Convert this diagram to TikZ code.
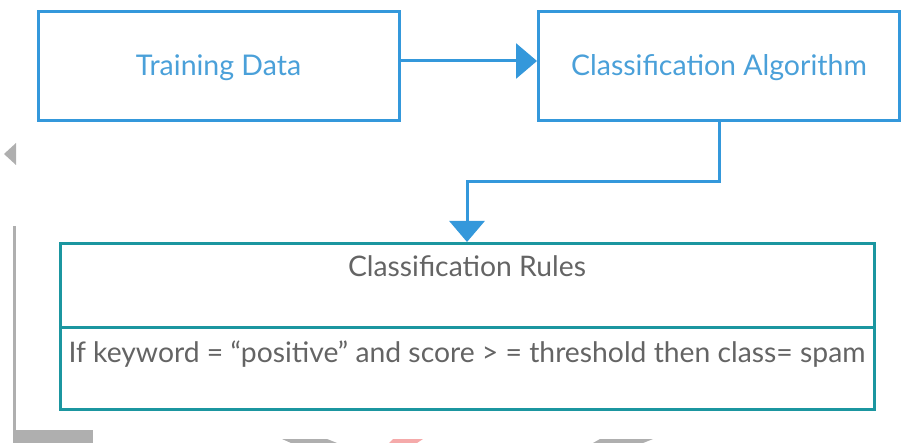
\documentclass[tikz,border=0pt]{standalone}
\usepackage{fontspec}
\setmainfont{Lato}
\usetikzlibrary{arrows.meta,positioning}

\tikzset{every picture/.style={line width=0.75pt}}
\tikzset{
  stagebox/.style={draw={rgb, 255:red, 52; green, 152; blue, 219}, line width=3pt, minimum width=361pt, text height=64pt, text depth=44.5pt, inner sep=0pt, text={rgb, 255:red, 74; green, 160; blue, 217}, font=\fontsize{28.5}{32}\selectfont},
  rulebox/.style={draw={rgb, 255:red, 27; green, 150; blue, 160}, line width=3pt, minimum width=814pt, inner sep=0pt, text={rgb, 255:red, 100; green, 100; blue, 100}, font=\fontsize{28.3}{32}\selectfont},
  flow/.style={draw={rgb, 255:red, 52; green, 152; blue, 219}, line width=3pt, -{Triangle[length=21pt,width=35pt]}},
  mark gray/.style={fill={rgb, 255:red, 175; green, 175; blue, 175}},
}

\begin{document}
\begin{tikzpicture}[x=1pt,y=1pt,yscale=-1,xscale=1]
\useasboundingbox (0,0) rectangle (921,443);

%Shape: Rectangle
\node [stagebox] (train) at (218.5,66) {Training Data};
%Shape: Rectangle
\node [stagebox] (algo) at (719,66) {Classification Algorithm};

%Shape: Rectangle (two parts)
\node [rulebox, text height=33.5pt, text depth=51pt] (rules) at (467,285.75) {Classification Rules};
\node [rulebox, text height=35pt, text depth=47pt, below=-3pt of rules] (rulebody) {If keyword = “positive” and score > = threshold then class= spam};

%Straight Lines
\draw [flow] ([yshift=-5pt]train.east) -- ([yshift=-5pt]algo.west);
%Straight Lines
\draw [flow] (algo.south) -- ++(0,60) -| (rules.north);

%Shape: marks at the edges
\fill [mark gray] (4,154) -- (16,143) -- (16,165) -- cycle;
\fill [mark gray] (13,226) rectangle (16,443);
\fill [mark gray] (13,430) rectangle (93,443);
\fill [mark gray] (282,439) -- (327,439) -- (337,443) -- (291,443) -- cycle;
\fill [fill={rgb, 255:red, 245; green, 170; blue, 170}] (393,439) -- (423,439) -- (417,443) -- (389,443) -- cycle;
\fill [mark gray] (600,439) -- (653,439) -- (643,443) -- (593,443) -- cycle;

\end{tikzpicture}
\end{document}
